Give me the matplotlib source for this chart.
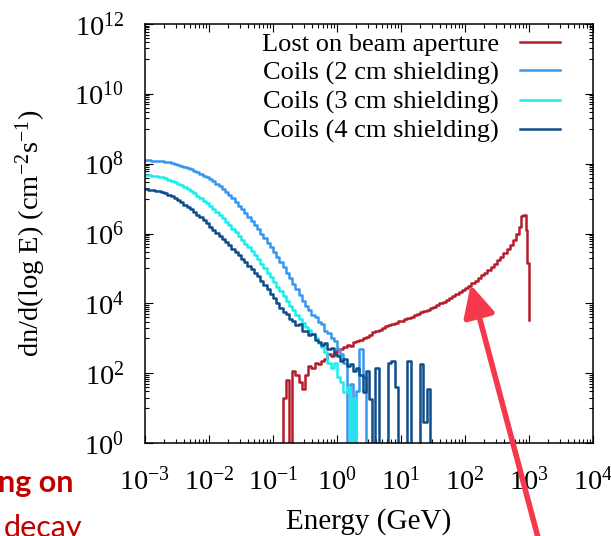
import numpy as np
import matplotlib
matplotlib.use("Agg")
import matplotlib.pyplot as plt
from matplotlib.ticker import LogLocator, FixedLocator, LogFormatterSciNotation, NullFormatter

plt.rcParams['font.family'] = ['Liberation Serif', 'DejaVu Serif']
plt.rcParams['mathtext.fontset'] = 'custom'
plt.rcParams['mathtext.rm'] = 'Liberation Serif'
plt.rcParams['mathtext.it'] = 'Liberation Serif:italic'
plt.rcParams['mathtext.bf'] = 'Liberation Serif:bold'

# ---------------- data (log10 of dn/d(log E); None = empty bin) ----------------
# coil spectra: bins of 0.05 in log10(E/GeV), starting at log10(E) = -3
coil_bin_start = -3.0
coil_bin_width = 0.05
coils_2cm = [8.10, 8.10, 8.09, 8.09, 8.08, 8.07, 8.06, 8.04, 8.02, 8.00,
             7.97, 7.94, 7.91, 7.87, 7.84, 7.80, 7.76, 7.71, 7.66, 7.61,
             7.56, 7.50, 7.43, 7.36, 7.28, 7.19, 7.10, 7.01, 6.91, 6.80,
             6.69, 6.58, 6.47, 6.36, 6.24, 6.12, 6.00, 5.87, 5.74, 5.61,
             5.47, 5.33, 5.18, 5.03, 4.88, 4.72, 4.56, 4.40, 4.24, 4.08,
             3.92, 3.82, 3.68, 3.62, 3.47, 3.40, 3.22, 3.16, 3.00, 2.92,
             2.70, 2.55, 2.30, None, 1.70, None, 1.50, 2.70, 1.90, None]
coils_3cm = [7.67, 7.67, 7.66, 7.65, 7.63, 7.61, 7.58, 7.54, 7.50, 7.47,
             7.43, 7.39, 7.34, 7.28, 7.22, 7.15, 7.08, 7.01, 6.94, 6.86,
             6.78, 6.70, 6.61, 6.52, 6.43, 6.34, 6.24, 6.14, 6.04, 5.93,
             5.82, 5.71, 5.60, 5.49, 5.38, 5.26, 5.14, 5.01, 4.88, 4.75,
             4.62, 4.48, 4.34, 4.20, 4.06, 3.93, 3.80, 3.67, 3.54, 3.43,
             3.32, 3.24, 3.12, 3.02, 2.85, 2.75, 2.60, 2.30, 2.15, 2.30,
             1.90, 1.75, 1.45, 1.60, None, 1.30, None]
coils_4cm = [7.27, 7.26, 7.25, 7.23, 7.21, 7.18, 7.15, 7.11, 7.06, 7.01,
             6.95, 6.89, 6.83, 6.76, 6.69, 6.62, 6.54, 6.46, 6.38, 6.29,
             6.20, 6.11, 6.02, 5.93, 5.84, 5.75, 5.66, 5.56, 5.47, 5.38,
             5.28, 5.18, 5.08, 4.98, 4.88, 4.77, 4.65, 4.53, 4.41, 4.28,
             4.15, 4.00, 3.88, 3.75, 3.70, 3.55, 3.50, 3.38, 3.40, 3.22,
             3.20, 3.08, 3.12, 2.95, 2.90, 2.82, 2.85, 2.70, 2.72, 2.55,
             2.50, 2.35, 2.40, 2.20, 2.25, 2.05, 2.15, 1.95, 1.45, 2.05,
             1.25, None, 2.15, None, None, None, 2.30, 2.35, 1.60, None,
             None, None, 2.35, None, None, None, 2.25, 0.60, 1.55, None]

# beam-aperture losses: 0.05 bins from log10(E) = -0.85, then a finer tail
lost_bin_start = -0.85
lost_bin_width = 0.05
lost_aperture = [1.30, 1.80, None, 2.05, 1.95, 1.75, 1.55, 1.95, 2.20, 2.15,
                 2.30, 2.25, 2.35, 2.40, 2.55, 2.50, 2.62, 2.70, 2.68, 2.75,
                 2.80, 2.78, 2.88, 2.92, 2.95, 3.00, 3.05, 3.10, 3.18, 3.22,
                 3.25, 3.30, 3.34, 3.38, 3.42, 3.45, 3.48, 3.50, 3.54, 3.58,
                 3.62, 3.66, 3.70, 3.74, 3.78, 3.82, 3.86, 3.90, 3.95, 4.00,
                 4.05, 4.10, 4.15, 4.20, 4.26, 4.32, 4.38, 4.44, 4.51, 4.58,
                 4.65, 4.72, 4.80, 4.88, 4.96, 5.05, 5.14, 5.23, 5.33, 5.44,
                 5.56, 5.68, 5.82, 5.98]
lost_tail_edges = [2.85, 2.875, 2.90, 2.925, 2.95, 2.975, 3.0]
lost_tail = [6.20, 6.50, 6.53, 6.53, 6.10, 5.15]
lost_end = 3.52

labels = ["Lost on beam aperture", "Coils (2 cm shielding)",
          "Coils (3 cm shielding)", "Coils (4 cm shielding)"]
colors = ["#b51d2c", "#3797f0", "#19eeee", "#0f4c8a"]

y_major = [1e0, 1e2, 1e4, 1e6, 1e8, 1e10, 1e12]


def to_lin(vals):
    return np.array([0.0 if v is None else 10.0 ** v for v in vals])


# ---------------- figure ----------------
fig = plt.figure(figsize=(6.11, 5.36), dpi=100)
ax = fig.add_axes([145 / 611, 1 - 443 / 536, 448 / 611, 419 / 536])

# red: lost on beam aperture
edges_r = lost_bin_start + lost_bin_width * np.arange(len(lost_aperture) + 1)
edges_r = np.concatenate([edges_r[:-1], lost_tail_edges])
vals_r = np.concatenate([to_lin(lost_aperture), to_lin(lost_tail), [10 ** lost_end]])
xr = np.concatenate([[10 ** edges_r[0]], 10 ** edges_r])
yr = np.concatenate([[0.0], vals_r])
ax.step(xr, yr, where='post', color=colors[0], lw=1.8, label=labels[0])

for series, col, lab in zip([coils_2cm, coils_3cm, coils_4cm], colors[1:], labels[1:]):
    v = to_lin(series)
    e = coil_bin_start + coil_bin_width * np.arange(len(v) + 1)
    y = np.concatenate([v, [v[-1]]])
    ax.step(10 ** e, y, where='post', color=col, lw=1.8, label=lab)

ax.set_xscale('log', nonpositive='clip')
ax.set_yscale('log', nonpositive='clip')
ax.set_xlim(1e-3, 1e4)
ax.set_ylim(1e0, 1e12)

ax.xaxis.set_major_locator(LogLocator(base=10, numticks=20))
ax.xaxis.set_minor_locator(LogLocator(base=10, subs=np.arange(2, 10), numticks=100))
ax.xaxis.set_minor_formatter(NullFormatter())
ax.yaxis.set_major_locator(FixedLocator(y_major))
ax.yaxis.set_minor_locator(FixedLocator([j * 10.0 ** (2 * n + 1)
                                         for n in range(-1, 7) for j in range(1, 10)]))
ax.yaxis.set_major_formatter(LogFormatterSciNotation())
ax.yaxis.set_minor_formatter(NullFormatter())

ax.tick_params(which='both', direction='in', top=True, right=True, width=0.8)
ax.tick_params(which='major', length=5.5, labelsize=20.5)
ax.tick_params(which='minor', length=3)
ax.tick_params(axis='x', which='major', pad=17)
ax.tick_params(axis='y', which='major', pad=15)
for s in ax.spines.values():
    s.set_linewidth(1.1)

ax.set_xlabel("Energy (GeV)", fontsize=21)
ax.set_ylabel(r"dn/d(log E) (cm$^{-2}$s$^{-1}$)", fontsize=20.5)
ax.xaxis.set_label_coords(0.5, -0.155)
ax.yaxis.set_label_coords(-0.216, 0.5)

leg = ax.legend(loc='upper right', bbox_to_anchor=(0.926, 0.980), frameon=False,
                markerfirst=False, fontsize=19, handlelength=1.5, handletextpad=0.8,
                labelspacing=0.2, borderaxespad=0, borderpad=0)

# annotation arrow and cropped slide text
ax.annotate('', xy=(470 / 611, 1 - 282 / 536), xycoords='figure fraction',
            xytext=(540 / 611, 1 - 545 / 536), textcoords='figure fraction',
            arrowprops=dict(arrowstyle='-|>,head_length=1.9,head_width=0.95',
                            mutation_scale=10, color='#f5384b', lw=4),
            annotation_clip=False)
fig.text(73 / 611, 1 - 492 / 536, "ng on", ha='right', va='baseline',
         fontsize=22, fontweight='bold', color='#c00000', family='Lato')
fig.text(82 / 611, 1 - 537 / 536, "decay", ha='right', va='baseline',
         fontsize=22, color='#c00000', family='Lato')

fig.savefig('out.png', dpi=100)
